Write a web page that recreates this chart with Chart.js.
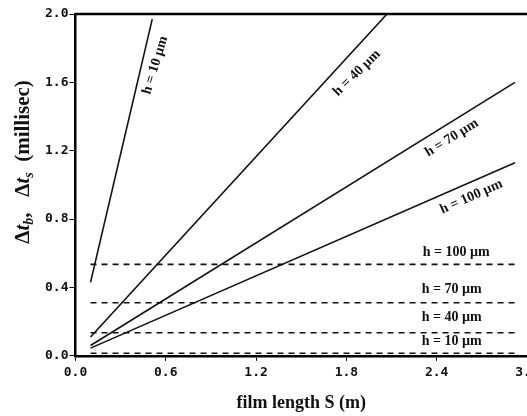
<!DOCTYPE html>
<html>
<head>
<meta charset="utf-8">
<script src="https://cdn.jsdelivr.net/npm/chart.js@4/dist/chart.umd.min.js"></script>
<style>
  html, body { margin: 0; padding: 0; background: #fff; }
  #wrap { width: 527px; height: 416px; }
</style>
</head>
<body>
<div id="wrap"><canvas id="id_chart"></canvas></div>
<script>
// film thickness h (um) for each curve
var H_LIST = ['10', '40', '70', '100'];

// solid lines : delta t_b, from S start to S end
var TB_S_START = [0.10, 0.10, 0.10, 0.10];
var TB_S_END   = [0.51, 2.07, 2.92, 2.92];
var TB_START   = [0.43, 0.11, 0.06, 0.045];
var TB_END     = [1.97, 2.00, 1.60, 1.13];

// dashed lines : delta t_s (flat)
var TS_S_START = 0.10;
var TS_S_END   = 2.92;
var TS_VALUE   = [0.015, 0.135, 0.31, 0.535];

// label anchors in data units (S, t)
var TB_LABEL_S = [0.53, 1.87, 2.50, 2.63];
var TB_LABEL_T = [1.70, 1.655, 1.275, 0.93];
var TS_LABEL_S = [2.50, 2.50, 2.50, 2.53];
var TS_LABEL_T = [0.082, 0.222, 0.386, 0.608];

var SERIF = '"Liberation Serif", "Times New Roman", serif';
var MONO  = '"DejaVu Sans Mono", monospace';

var datasets = [];
H_LIST.forEach(function(h, i){
    datasets.push({
        label: 'tb h=' + h,
        data: [ {x: TB_S_START[i], y: TB_START[i]}, {x: TB_S_END[i], y: TB_END[i]} ],
        borderColor: '#111',
        borderWidth: 1.6,
        pointRadius: 0,
        tension: 0
    });
});
H_LIST.forEach(function(h, i){
    datasets.push({
        label: 'ts h=' + h,
        data: [ {x: TS_S_START, y: TS_VALUE[i]}, {x: TS_S_END, y: TS_VALUE[i]} ],
        borderColor: '#111',
        borderWidth: 1.6,
        borderDash: [6, 5],
        pointRadius: 0,
        tension: 0
    });
});

// rotated labels + top frame line + y title with subscripts
var decoPlugin = {
    id: 'deco',
    afterDraw: function(chart){
        var ctx = chart.ctx;
        var xs = chart.scales.x, ys = chart.scales.y;
        var area = chart.chartArea;
        var angles = [-73, -44, -32, -24]; // 直線の傾きに合わせる

        ctx.save();
        // top frame
        ctx.strokeStyle = '#000';
        ctx.lineWidth = 2.5;
        ctx.beginPath();
        ctx.moveTo(area.left, area.top);
        ctx.lineTo(area.right, area.top);
        ctx.stroke();

        ctx.fillStyle = '#111';
        ctx.textAlign = 'center';
        ctx.textBaseline = 'middle';
        ctx.font = 'bold 14px ' + SERIF;
        H_LIST.forEach(function(h, i){
            var px = xs.getPixelForValue(TB_LABEL_S[i]);
            var py = ys.getPixelForValue(TB_LABEL_T[i]);
            ctx.save();
            ctx.translate(px, py);
            ctx.rotate(angles[i] * Math.PI / 180);
            ctx.fillText('h = ' + h + ' \u00b5m', 0, 0);
            ctx.restore();

            ctx.fillText('h = ' + h + ' \u00b5m',
                xs.getPixelForValue(TS_LABEL_S[i]),
                ys.getPixelForValue(TS_LABEL_T[i]));
        });

        // y axis title
        var parts = [
            {t: '\u0394', f: 'bold 21px ' + SERIF, dy: 0},
            {t: 't', f: 'italic bold 21px ' + SERIF, dy: 0},
            {t: 'b', f: 'italic bold 14px ' + SERIF, dy: 5},
            {t: ',   \u0394', f: 'bold 21px ' + SERIF, dy: 0},
            {t: 't', f: 'italic bold 21px ' + SERIF, dy: 0},
            {t: 's', f: 'italic bold 14px ' + SERIF, dy: 5},
            {t: '  (millisec)', f: 'bold 21px ' + SERIF, dy: 0}
        ];
        var total = 0;
        parts.forEach(function(p){ ctx.font = p.f; p.w = ctx.measureText(p.t).width; total += p.w; });
        ctx.translate(24, 162);
        ctx.rotate(-Math.PI / 2);
        ctx.textAlign = 'left';
        var cx = -total / 2;
        parts.forEach(function(p){
            ctx.font = p.f;
            ctx.fillText(p.t, cx, p.dy);
            cx += p.w;
        });
        ctx.restore();
    }
};

var ctx = document.getElementById('id_chart').getContext('2d');
var myChart = new Chart(ctx, {
    type: 'line',
    data: { datasets: datasets },
    options: {
        responsive: true,
        maintainAspectRatio: false,
        animation: false,
        layout: { padding: { left: 44, right: 0, top: 14, bottom: 2 } },
        plugins: { legend: { display: false }, tooltip: { enabled: false } },
        scales: {
            x: {
                type: 'linear',
                min: 0,
                max: 3.0,
                afterFit: function(scale){ scale.paddingRight = 0; },
                border: { display: true, color: '#000', width: 2.5 },
                grid: { drawOnChartArea: false, drawTicks: true, tickLength: 5, tickColor: '#000' },
                ticks: {
                    stepSize: 0.6,
                    color: '#111',
                    font: { family: MONO, size: 13, weight: 'bold' },
                    padding: 4,
                    maxRotation: 0,
                    callback: function(v){ return Number(v).toFixed(1); }
                },
                title: {
                    display: true,
                    text: 'film length S (m)',
                    color: '#111',
                    font: { family: SERIF, size: 18, weight: 'bold' },
                    padding: { top: 8, bottom: 0 }
                }
            },
            y: {
                min: 0,
                max: 2.0,
                border: { display: true, color: '#000', width: 2.5 },
                grid: { drawOnChartArea: false, drawTicks: true, tickLength: 6, tickColor: '#000' },
                ticks: {
                    stepSize: 0.4,
                    color: '#111',
                    font: { family: MONO, size: 13, weight: 'bold' },
                    padding: 1,
                    callback: function(v){ return Number(v).toFixed(1); }
                }
            }
        }
    },
    plugins: [decoPlugin]
});
</script>
</body>
</html>
